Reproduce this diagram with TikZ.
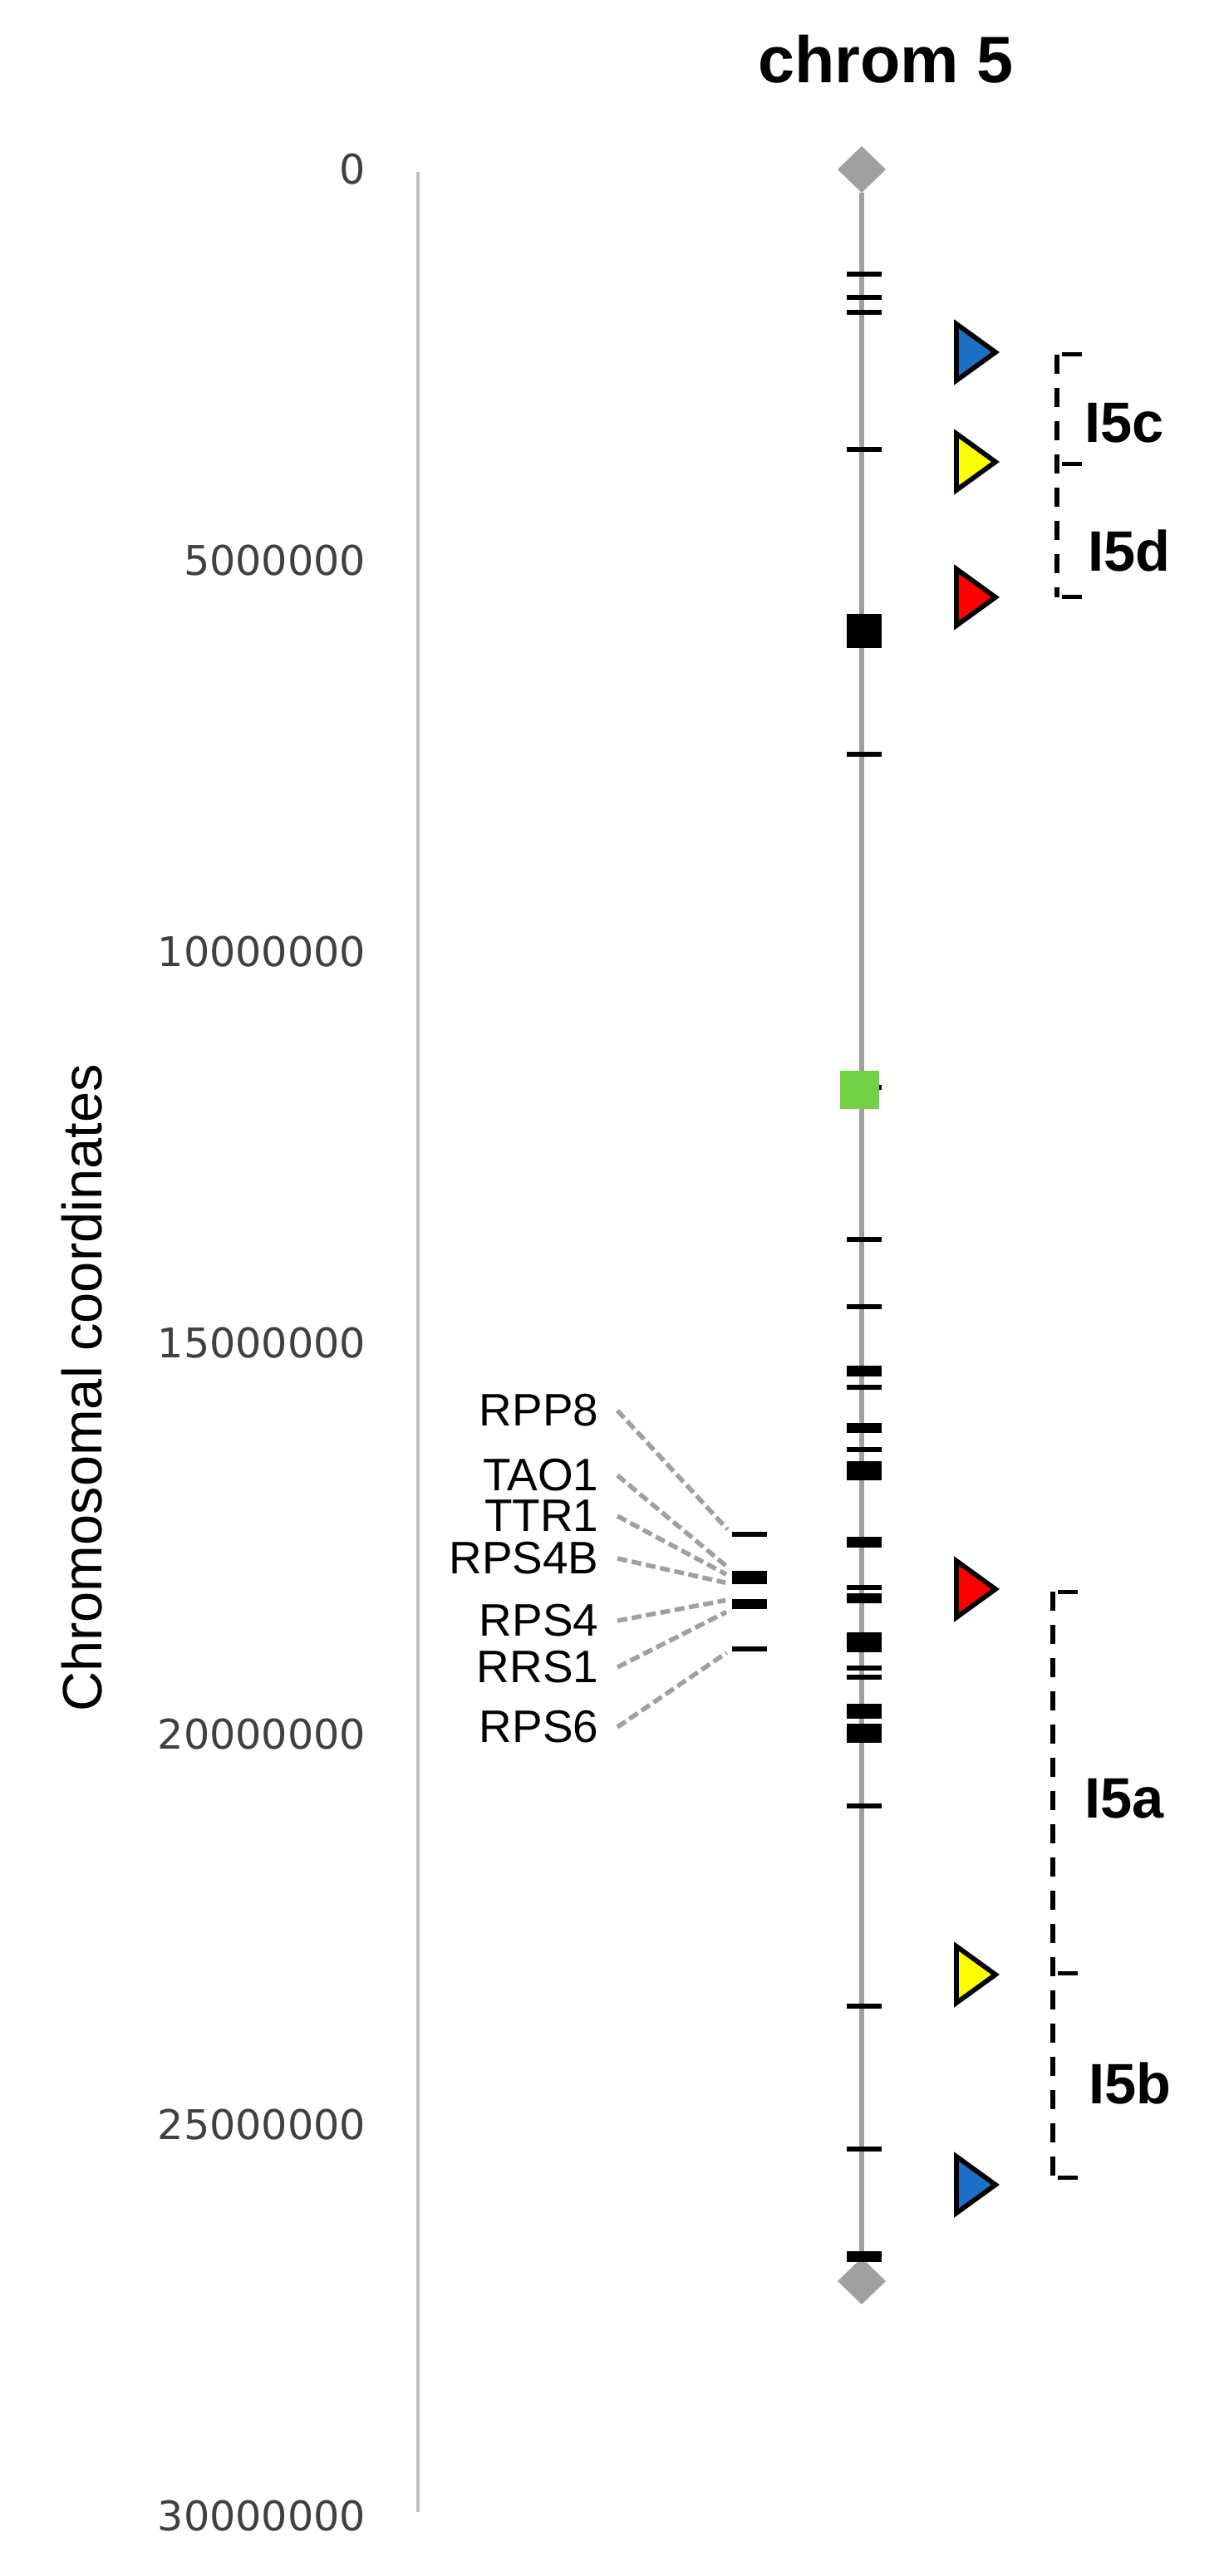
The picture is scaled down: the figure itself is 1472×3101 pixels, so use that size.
\documentclass[tikz,border=0pt]{standalone}
\usepackage{fontspec}
\setmainfont{Liberation Sans}
\newfontfamily\tickfont{DejaVu Sans}
\usepackage{tikz}
\usetikzlibrary{shapes.geometric}

\definecolor{chromgray}{RGB}{160,160,160}
\definecolor{axisgray}{RGB}{192,192,192}
\definecolor{ticktext}{RGB}{64,64,64}
\definecolor{cenGreen}{RGB}{112,210,68}
\definecolor{snpBlue}{RGB}{30,112,198}
\definecolor{snpYellow}{RGB}{255,255,0}
\definecolor{snpRed}{RGB}{255,0,0}

\begin{document}
\begin{tikzpicture}[x=0.01cm, y=-0.01cm,
    chrband/.style={fill=black, inner sep=0pt, outer sep=0pt, minimum width=0.42cm},
    telo/.style={diamond, fill=chromgray, inner sep=0pt, outer sep=0pt, minimum width=0.58cm, minimum height=0.56cm},
    snpflag/.style={draw=black, line width=0.058cm, line join=miter},
    genelabel/.style={anchor=east, inner xsep=0.22cm, inner ysep=0pt, font=\fontsize{15.6}{18}\selectfont},
    genelink/.style={draw=chromgray, line width=0.055cm, dash pattern=on 0.12cm off 0.055cm, shorten >=0.08cm},
    ivline/.style={line width=0.06cm, dash pattern=on 0.23cm off 0.17cm},
    ivtick/.style={line width=0.05cm},
    ivlabel/.style={font=\bfseries\fontsize{19.5}{22}\selectfont},
    axlabel/.style={anchor=east, inner sep=0pt, text=ticktext, font=\tickfont\fontsize{14}{16}\selectfont}
]
    \useasboundingbox (0,0) rectangle (1472,3101);

    \node[font=\bfseries\fontsize{22.5}{26}\selectfont] (title) at (1066,71) {chrom 5};

    % coordinate axis
    \coordinate (axtop) at (503,207);
    \coordinate (axbot) at (503,3024);
    \draw[axisgray, line width=0.04cm] (axtop) -- (axbot);
    \foreach \v [count=\k from 0] in {0,5000000,10000000,15000000,20000000,25000000,30000000}
        \node[axlabel] (ax\k) at (441,204+470.8*\k) {\v};
    \node[rotate=90, font=\fontsize{19}{22}\selectfont] (axtitle) at (99,1671) {Chromosomal coordinates};

    % chromosome
    \node[telo] (pter) at (1037,204) {};
    \node[telo] (qter) at (1037,2746) {};
    \draw[chromgray, line width=0.06cm] (pter) -- (qter);
    \foreach \y/\h [count=\i] in {330/6,358/6,376/6,541/6,760/41,908/6,1309/6,1492/6,1573/6,
        1650/13,1670/6,1719/12,1745/6,1770/23,1856/13,1911/6,1924/12,1977/24,2008/6,2019/6,
        2060/18,2086/23,2174/6,2415/6,2587/6,2716/13}
        \node[chrband, minimum height=\h*0.01cm] (b\i) at (1040,\y) {};
    \node[fill=cenGreen, inner sep=0pt, minimum width=0.47cm, minimum height=0.46cm] (cen) at (1034.5,1312) {};

    % R gene cluster
    \foreach \y/\h [count=\i] in {1847/6,1899/16,1931/12,1985/6}
        \node[chrband, minimum height=\h*0.01cm] (cl\i) at (902,\y) {};
    \node[genelabel] (rpp8) at (743,1698) {RPP8};
    \node[genelabel] (tao1) at (743,1776) {TAO1};
    \node[genelabel] (ttr1) at (743,1825) {TTR1};
    \node[genelabel] (rps4b) at (743,1876) {RPS4B};
    \node[genelabel] (rps4) at (743,1951) {RPS4};
    \node[genelabel] (rrs1) at (743,2007) {RRS1};
    \node[genelabel] (rps6) at (743,2079) {RPS6};
    \draw[genelink] (rpp8.east) -- (cl1.west);
    \draw[genelink] (tao1.east) -- (cl2.north west);
    \draw[genelink] (ttr1.east) -- (cl2.west);
    \draw[genelink] (rps4b.east) -- (cl2.south west);
    \draw[genelink] (rps4.east) -- (cl3.north west);
    \draw[genelink] (rrs1.east) -- (cl3.south west);
    \draw[genelink] (rps6.east) -- (cl4.west);

    % markers
    \foreach \y/\c [count=\i] in {424/snpBlue,556/snpYellow,719/snpRed,1913/snpRed,2377/snpYellow,2630/snpBlue} {
        \coordinate (snp\i) at (1151,\y);
        \draw[snpflag, fill=\c] (snp\i) ++(0,-34) -- ++(47,34) -- ++(-47,34) -- cycle;
    }

    % intervals
    \coordinate (cTop) at (1272,427);
    \coordinate (cMid) at (1272,559);
    \coordinate (cBot) at (1272,719);
    \coordinate (aTop) at (1267,1916);
    \coordinate (aMid) at (1267,2375);
    \coordinate (aBot) at (1267,2621);
    \draw[ivline] (cTop) -- (cBot);
    \draw[ivline] (aTop) -- (aBot);
    \foreach \p in {cTop,cMid,cBot,aTop,aMid,aBot}
        \draw[ivtick] ([xshift=0.06cm]\p) -- ++(24,0);
    \node[ivlabel] (i5c) at (1353,509) {I5c};
    \node[ivlabel] (i5d) at (1359,663) {I5d};
    \node[ivlabel] (i5a) at (1353,2165) {I5a};
    \node[ivlabel] (i5b) at (1360,2508) {I5b};
\end{tikzpicture}
\end{document}
